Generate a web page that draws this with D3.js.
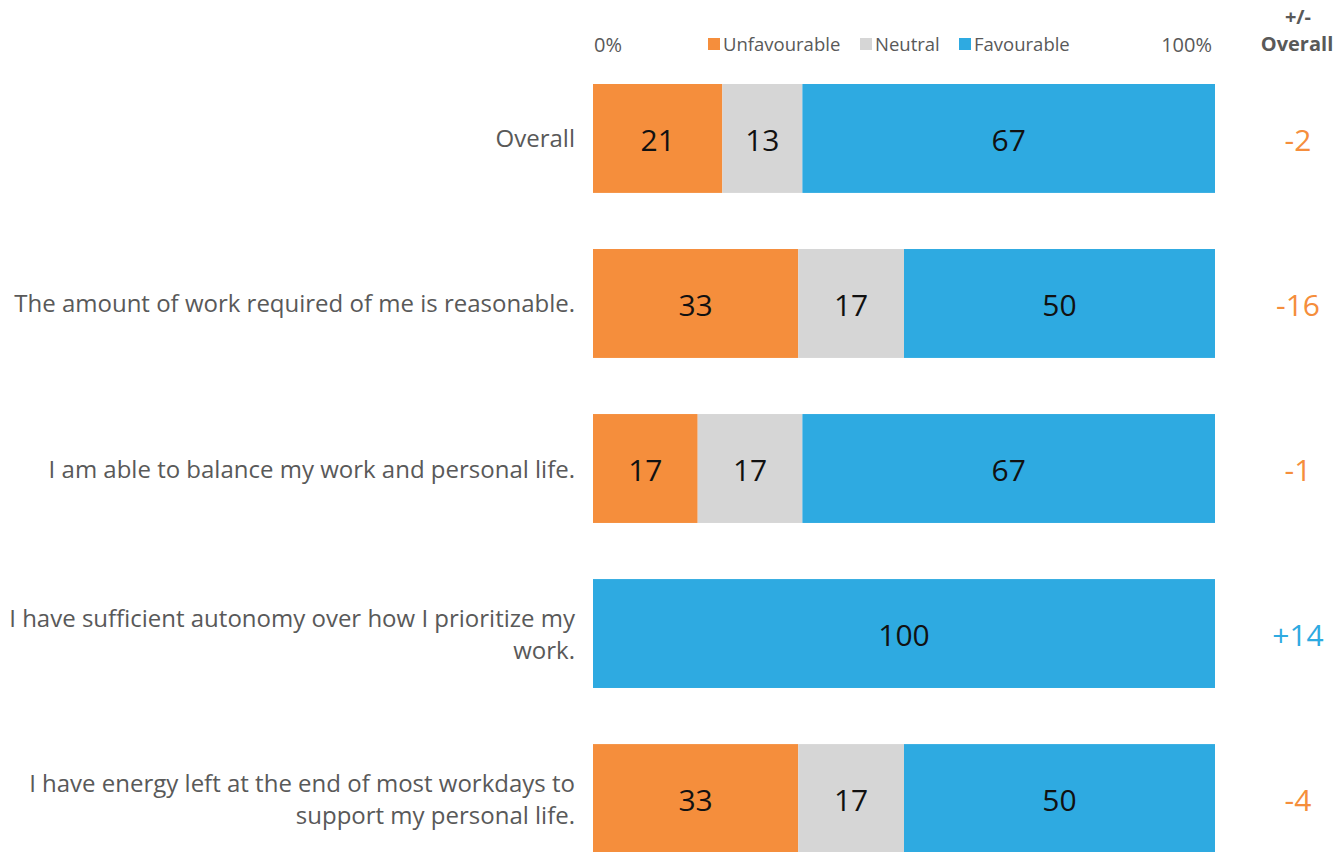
<!DOCTYPE html>
<html>
<head>
<meta charset="utf-8">
<script src="https://cdn.jsdelivr.net/npm/d3@7"></script>
<style>
  body { margin: 0; background: #fff; }
  svg { display: block; font-family: "Open Sans", sans-serif; }
</style>
</head>
<body>
<div class="chart"></div>
<script>
const questions = [
  ['Overall'],
  ['The amount of work required of me is reasonable.'],
  ['I am able to balance my work and personal life.'],
  ['I have sufficient autonomy over how I prioritize my', 'work.'],
  ['I have energy left at the end of most workdays to', 'support my personal life.']
]
const unfavourable = [21, 33, 17, 0, 33]
const neutral = [13, 17, 17, 0, 17]
const favourable = [67, 50, 67, 100, 50]
const diffs = ['-2', '-16', '-1', '+14', '-4']

const categories = ['Unfavourable', 'Neutral', 'Favourable']
const colours = ['#f58e3c', '#d6d6d6', '#2eaae1']

const width = 1338, height = 852

const svg = d3.select('.chart').append('svg')
  .attr('width', width)
  .attr('height', height)

const x = d3.scaleLinear().domain([0, 100]).range([593, 1215])
const y = d3.scaleBand().domain(d3.range(questions.length)).range([84, 853]).paddingInner(0.34).paddingOuter(0)

const rows = questions.map((q, i) => {
  const vals = [unfavourable[i], neutral[i], favourable[i]]
  const total = d3.sum(vals)
  let acc = 0
  return vals.map((v, k) => {
    const seg = { row: i, key: k, value: v, x0: acc / total * 100, x1: (acc + v) / total * 100 }
    acc += v
    return seg
  })
})

// header
svg.append('text').attr('x', x(0) + 1).attr('y', 52).attr('font-size', 20).attr('fill', '#595959').text('0%')
svg.append('text').attr('x', x(100) - 3).attr('y', 52).attr('text-anchor', 'end').attr('font-size', 20).attr('fill', '#595959').text('100%')

const legendX = [708, 860, 959]
const legend = svg.append('g').selectAll('g')
  .data(categories)
  .enter().append('g')
  .attr('transform', (d, i) => 'translate(' + legendX[i] + ',38)')
legend.append('rect').attr('width', 12).attr('height', 12).attr('fill', (d, i) => colours[i])
legend.append('text').attr('x', 15).attr('y', 13).attr('font-size', 18.5).attr('fill', '#595959').text(d => d)

svg.append('text').attr('x', 1298).attr('y', 24).attr('text-anchor', 'middle').attr('font-size', 20).attr('font-weight', 'bold').attr('fill', '#595959').text('+/-')
svg.append('text').attr('x', 1297).attr('y', 51).attr('text-anchor', 'middle').attr('font-size', 20).attr('font-weight', 'bold').attr('fill', '#595959').text('Overall')

// bars
const segs = svg.append('g').selectAll('g')
  .data(rows.flat().filter(d => d.value > 0))
  .enter().append('g')

segs.append('rect')
  .attr('x', d => x(d.x0))
  .attr('y', d => y(d.row))
  .attr('width', d => x(d.x1) - x(d.x0))
  .attr('height', y.bandwidth())
  .attr('fill', d => colours[d.key])

segs.append('text')
  .attr('x', d => (x(d.x0) + x(d.x1)) / 2)
  .attr('y', d => y(d.row) + y.bandwidth() / 2 + 2)
  .attr('dy', '0.35em')
  .attr('text-anchor', 'middle')
  .attr('font-size', 30)
  .attr('fill', '#111')
  .text(d => d.value)

// question labels
const labels = svg.append('g').selectAll('text')
  .data(questions)
  .enter().append('text')
  .attr('text-anchor', 'end')
  .attr('font-size', 24)
  .attr('fill', '#595959')
  .attr('y', (d, i) => y(i) + y.bandwidth() / 2 - (d.length - 1) * 16)

labels.selectAll('tspan')
  .data(d => d)
  .enter().append('tspan')
  .attr('x', 575)
  .attr('dy', (d, i) => i ? 32 : 9)
  .text(d => d)

// differences
svg.append('g').selectAll('text')
  .data(diffs)
  .enter().append('text')
  .attr('x', 1298)
  .attr('y', (d, i) => y(i) + y.bandwidth() / 2 + 2)
  .attr('dy', '0.35em')
  .attr('text-anchor', 'middle')
  .attr('font-size', 30)
  .attr('fill', d => d[0] === '+' ? colours[2] : colours[0])
  .text(d => d)
</script>
</body>
</html>
